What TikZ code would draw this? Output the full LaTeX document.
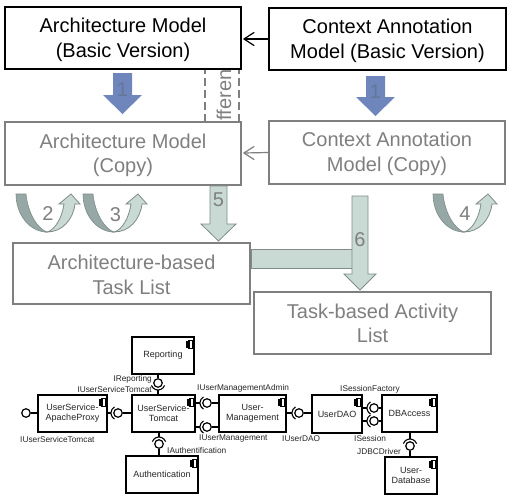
\documentclass[tikz,border=0pt]{standalone}
\usepackage{fontspec}
\setmainfont{Liberation Sans}
\usetikzlibrary{calc}
\definecolor{txtgray}{HTML}{7F7F7F}
\definecolor{boxgray}{HTML}{7F7F7F}
\definecolor{bluearrow}{HTML}{6F86BD}
\definecolor{bluenum}{HTML}{66759A}
\definecolor{tealfill}{HTML}{C9DAD5}
\definecolor{tealdark}{HTML}{95A8A5}
\definecolor{tealline}{HTML}{7F8C88}
\tikzset{
  mainbox/.style={draw=black,line width=2pt,fill=white},
  copybox/.style={draw=boxgray,line width=2pt,fill=white},
  maintext/.style={text=black,align=center,font=\fontsize{20}{24.5}\selectfont,inner sep=0pt},
  copytext/.style={text=txtgray,align=center,font=\fontsize{20}{24.5}\selectfont,inner sep=0pt},
  blueblock/.style={fill=bluearrow,draw=none},
  tealblock/.style={fill=tealfill,draw=tealline,line width=.8pt},
  darkblock/.style={fill=tealdark,draw=tealline,line width=.6pt},
  num/.style={text=txtgray,font=\fontsize{20}{20}\selectfont,inner sep=0pt},
  bluenumber/.style={text=bluenum,font=\fontsize{20}{20}\selectfont,inner sep=0pt},
  comp/.style={draw=black,line width=1.1pt,fill=white,align=center,font=\fontsize{9}{10}\selectfont,inner sep=0pt,text=black!85},
  ball/.style={circle,draw=black,line width=1.2pt,fill=white,minimum size=8.5pt,inner sep=0pt},
  ifline/.style={draw=black,line width=1.1pt},
  iflabel/.style={font=\fontsize{8.3}{10}\selectfont,inner sep=0pt,text=black!85},
}
\newcommand{\crescentarrow}[1]{%
  \begin{scope}[shift={(#1,0)}]
    \path[tealblock] (47,232) .. controls (55,230) and (62,218) .. (64,204) -- (59,204) -- (71,194) -- (80,204) -- (75,204) .. controls (73,220) and (62,232) .. (47,232) -- cycle;
    \path[darkblock] (16,194) -- (26,194) .. controls (28,214) and (38,229) .. (47,232) .. controls (30,232) and (16,215) .. (16,194) -- cycle;
  \end{scope}}
\newcommand{\iconat}[1]{%
  \draw[black,line width=.8pt,fill=white] ($(#1.north east)+(-6,3.5)$) rectangle ++(4,8);
  \fill[black] ($(#1.north east)+(-9,4.5)$) rectangle ++(4.5,7);}
\newcommand{\sockarc}[3]{%
  \draw[ifline] ($(#1)+(#2:7)$) arc[start angle=#2,end angle=#3,radius=7];}
\begin{document}
\begin{tikzpicture}[x=1pt,y=-1pt]
\useasboundingbox (0,0) rectangle (509,498);
\fill[white] (0,0) rectangle (509,498);

% dashed box behind the model boxes
\draw[dashed,draw=boxgray,line width=1.5pt,dash pattern=on 8pt off 4pt] (205,66) -- (205,124) (239,66) -- (239,124);
\node[rotate=90,text=txtgray,font=\fontsize{20}{20}\selectfont,inner sep=0pt] (difflabel) at (224,95) {fferen};

\node[mainbox,minimum width=236pt,minimum height=62pt,label={[maintext,yshift=-2pt]center:{Architecture Model\\(Basic Version)}}] (archbasic) at (123,38) {};
\node[mainbox,minimum width=237pt,minimum height=62pt,label={[maintext,yshift=-2pt]center:{Context Annotation\\Model (Basic Version)}}] (ctxbasic) at (387.5,39) {};
\node[copybox,minimum width=236pt,minimum height=63pt,label={[copytext,yshift=-2pt]center:{Architecture Model\\(Copy)}}] (archcopy) at (123,153.5) {};
\node[copybox,minimum width=236pt,minimum height=63pt,label={[copytext,yshift=-1.5pt]center:{Context Annotation\\Model (Copy)}}] (ctxcopy) at (387,152.5) {};

\draw[line width=1.2pt,black] (ctxbasic.west) -- ($(archbasic.east)+(2,1)$) coordinate (t1);
\draw[line width=1.2pt,black,line cap=round] ($(t1)+(10,-6.5)$) -- (t1) -- ($(t1)+(10,6.5)$);
\draw[line width=1.2pt,boxgray] (ctxcopy.west) -- ($(archcopy.east)+(2,-.5)$) coordinate (t2);
\draw[line width=1.2pt,boxgray,line cap=round] ($(t2)+(10,-6.5)$) -- (t2) -- ($(t2)+(10,6.5)$);

% blue copy arrows
\path[blueblock] (113,73) -- (132,73) -- (132,95) -- (142,95) -- (122.5,114) -- (103,95) -- (113,95) -- cycle;
\node[bluenumber] (one) at (122.5,90) {1};
\path[blueblock] (366,76) -- (385,76) -- (385,97) -- (395,97) -- (375.5,116) -- (356,97) -- (366,97) -- cycle;
\node[bluenumber] (oneb) at (375.5,92) {1};

% lower boxes
\node[copybox,minimum width=237pt,minimum height=61pt,label={[copytext,yshift=-1.5pt]center:{Architecture-based\\Task List}}] (archtask) at (131.5,273.5) {};
\node[copybox,minimum width=237pt,minimum height=62pt,label={[copytext,yshift=-1pt]center:{Task-based Activity\\List}}] (tasklist) at (372.5,322.5) {};

% teal arrows
\path[tealblock] (210,186) -- (227,186) -- (227,224) -- (236,224) -- (218.5,241) -- (201,224) -- (210,224) -- cycle;
\node[num] (five) at (218.5,200) {5};
\path[tealblock] (251,249) rectangle (352,268);
\path[tealblock] (352,196) -- (368,196) -- (368,274) -- (376,274) -- (360,290) -- (344,274) -- (352,274) -- cycle;
\node[num] (six) at (360,240) {6};

\crescentarrow{0}
\crescentarrow{67}
\crescentarrow{417}
\node[num] (two) at (48,213.5) {2};
\node[num] (three) at (115.5,214.5) {3};
\node[num] (four) at (465,214) {4};

% components
\node[comp,minimum width=62pt,minimum height=37pt] (reporting) at (163,355.5) {Reporting};
\node[comp,minimum width=69pt,minimum height=37pt] (apache) at (72.5,413.5) {UserService-\\ApacheProxy};
\node[comp,minimum width=63pt,minimum height=37pt] (tomcat) at (163.5,413.5) {UserService-\\Tomcat};
\node[comp,minimum width=72pt,minimum height=37pt] (auth) at (162,474.5) {Authentication};
\node[comp,minimum width=67pt,minimum height=37pt] (usermgmt) at (252.5,413.5) {User-\\Management};
\node[comp,minimum width=50pt,minimum height=38pt] (userdao) at (337,414) {UserDAO};
\node[comp,minimum width=55pt,minimum height=37pt] (dbaccess) at (409.5,413.5) {DBAccess};
\node[comp,minimum width=52pt,minimum height=37pt] (userdb) at (411,475.5) {User-\\Database};
\foreach \c in {reporting,apache,tomcat,auth,usermgmt,userdao,dbaccess,userdb}{\iconat{\c}}

% interfaces
\node[ball] (bRep) at (158,383) {};
\node[ball] (bFree) at (26,413) {};
\node[ball] (bTom) at (118,413) {};
\node[ball] (bAdm) at (207,403) {};
\node[ball] (bMgt) at (207,427) {};
\node[ball] (bAuth) at (159,444) {};
\node[ball] (bDao) at (299,413) {};
\node[ball] (bFac) at (374,408) {};
\node[ball] (bSes) at (374,421) {};
\node[ball] (bJdbc) at (410,446) {};

% provider lines
\draw[ifline] (bRep.north) -- (reporting.south -| bRep);
\draw[ifline] (bFree.east) -- (apache.west |- bFree);
\draw[ifline] (bTom.east) -- (tomcat.west |- bTom);
\draw[ifline] (bAdm.east) -- (usermgmt.west |- bAdm);
\draw[ifline] (bMgt.east) -- (usermgmt.west |- bMgt);
\draw[ifline] (bAuth.south) -- (auth.north -| bAuth);
\draw[ifline] (bDao.east) -- (userdao.west |- bDao);
\draw[ifline] (bFac.east) -- (dbaccess.west |- bFac);
\draw[ifline] (bSes.east) -- (dbaccess.west |- bSes);
\draw[ifline] (bJdbc.south) -- (userdb.north -| bJdbc);

% required sockets
\sockarc{bRep}{20}{160}
\draw[ifline] ($(bRep)+(0,7)$) -- (tomcat.north -| bRep);
\sockarc{bTom}{120}{240}
\draw[ifline] ($(bTom)+(-7,0)$) -- (apache.east |- bTom);
\sockarc{bAdm}{120}{240}
\draw[ifline] ($(bAdm)+(-7,0)$) -- (tomcat.east |- bAdm);
\sockarc{bMgt}{120}{240}
\draw[ifline] ($(bMgt)+(-7,0)$) -- (tomcat.east |- bMgt);
\sockarc{bAuth}{200}{340}
\draw[ifline] ($(bAuth)+(0,-7)$) -- (tomcat.south -| bAuth);
\sockarc{bDao}{120}{240}
\draw[ifline] ($(bDao)+(-7,0)$) -- (usermgmt.east |- bDao);
\sockarc{bFac}{120}{240}
\draw[ifline] ($(bFac)+(-7,0)$) -- (userdao.east |- bFac);
\sockarc{bSes}{120}{240}
\draw[ifline] ($(bSes)+(-7,0)$) -- (userdao.east |- bSes);
\sockarc{bJdbc}{200}{340}
\draw[ifline] ($(bJdbc)+(0,-7)$) -- (dbaccess.south -| bJdbc);

% labels
\node[iflabel,anchor=east] (lRep) at (152,379) {IReporting};
\node[iflabel,anchor=east] (lTomA) at (152,389.5) {IUserServiceTomcat};
\node[iflabel,anchor=west] (lTomB) at (20,440) {IUserServiceTomcat};
\node[iflabel,anchor=west] (lAdm) at (197,388.5) {IUserManagementAdmin};
\node[iflabel,anchor=west] (lMgt) at (199,439) {IUserManagement};
\node[iflabel,anchor=west] (lAuth) at (167,451) {IAuthentification};
\node[iflabel,anchor=west] (lDao) at (282,439) {IUserDAO};
\node[iflabel,anchor=west] (lFac) at (340,389) {ISessionFactory};
\node[iflabel,anchor=west] (lSes) at (354,439) {ISession};
\node[iflabel,anchor=west] (lJdbc) at (357,452) {JDBCDriver};
\end{tikzpicture}
\end{document}
